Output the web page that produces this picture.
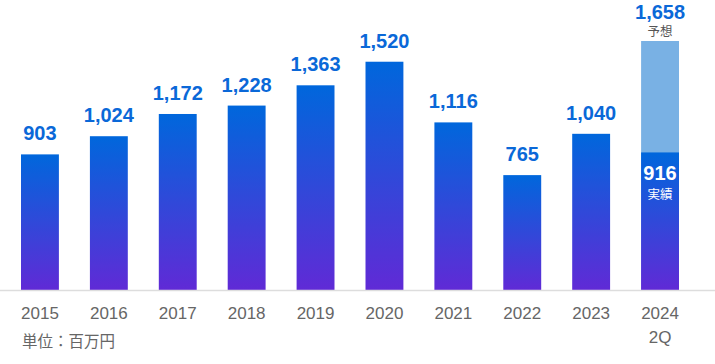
<!DOCTYPE html>
<html>
<head>
<meta charset="utf-8">
<script src="https://cdn.jsdelivr.net/npm/d3@7"></script>
<style>
  body { margin: 0; background: #fff; }
  text { font-family: "Liberation Sans", Arial, "Noto Sans CJK JP", sans-serif; }
</style>
</head>
<body>
<div id="chart"></div>
<script>
// data
const years = ["2015", "2016", "2017", "2018", "2019", "2020", "2021", "2022", "2023", "2024"];
const values = [903, 1024, 1172, 1228, 1363, 1520, 1116, 765, 1040, 916];
const forecastValue = 1658; // 2024 forecast
const yearSubLabels = ["", "", "", "", "", "", "", "", "", "2Q"];
const unitLabel = "単位：百万円";
const forecastLabel = "予想";
const actualLabel = "実績";

const width = 715, height = 364;
const baseY = 290;

const svg = d3
  .select("#chart")
  .append("svg")
  .attr("width", width)
  .attr("height", height);

// gradient for the bars
const defs = svg.append("defs");
const grad = defs
  .append("linearGradient")
  .attr("id", "barGrad")
  .attr("x1", 0).attr("y1", 0)
  .attr("x2", 0).attr("y2", 1);
grad.append("stop").attr("offset", "0%").attr("stop-color", "#0067dc");
grad.append("stop").attr("offset", "100%").attr("stop-color", "#602ad6");

const x = d3
  .scaleBand()
  .domain(years)
  .range([-10, 710])
  .paddingInner(0.45)
  .paddingOuter(0.45);

const y = d3
  .scaleLinear()
  .domain([0, forecastValue])
  .range([baseY, 41]);

const data = years.map((yr, i) => ({ year: yr, value: values[i], sub: yearSubLabels[i] }));
const last = years[years.length - 1];

// forecast bar (light) for 2024
svg
  .append("rect")
  .attr("x", x(last))
  .attr("y", y(forecastValue))
  .attr("width", x.bandwidth())
  .attr("height", y(0) - y(forecastValue))
  .attr("fill", "#79b1e4");

// bars
svg
  .selectAll(".bar")
  .data(data)
  .enter()
  .append("rect")
  .attr("class", "bar")
  .attr("x", (d) => x(d.year))
  .attr("y", (d) => y(d.value))
  .attr("width", x.bandwidth())
  .attr("height", (d) => y(0) - y(d.value))
  .attr("fill", "url(#barGrad)");

// baseline
svg
  .append("line")
  .attr("x1", 0)
  .attr("x2", width)
  .attr("y1", baseY + 0.5)
  .attr("y2", baseY + 0.5)
  .attr("stroke", "#dddddd")
  .attr("stroke-width", 1.5);

// value labels above bars
svg
  .selectAll(".val")
  .data(data.filter((d) => d.year !== last))
  .enter()
  .append("text")
  .attr("class", "val")
  .attr("x", (d) => x(d.year) + x.bandwidth() / 2)
  .attr("y", (d) => y(d.value) - 14)
  .attr("text-anchor", "middle")
  .attr("font-size", "20px")
  .attr("font-weight", "bold")
  .attr("fill", "#0a68d8")
  .text((d) => d3.format(",")(d.value));

// 2024 labels
const cx = x(last) + x.bandwidth() / 2;
svg
  .append("text")
  .attr("x", cx)
  .attr("y", y(forecastValue) - 22)
  .attr("text-anchor", "middle")
  .attr("font-size", "20px")
  .attr("font-weight", "bold")
  .attr("fill", "#0a68d8")
  .text(d3.format(",")(forecastValue));
svg
  .append("text")
  .attr("x", cx)
  .attr("y", y(forecastValue) - 5)
  .attr("text-anchor", "middle")
  .attr("font-size", "12.5px")
  .attr("fill", "#555")
  .text(forecastLabel);
svg
  .append("text")
  .attr("x", cx)
  .attr("y", y(values[values.length - 1]) + 28)
  .attr("text-anchor", "middle")
  .attr("font-size", "20px")
  .attr("font-weight", "bold")
  .attr("fill", "#fff")
  .text(d3.format(",")(values[values.length - 1]));
svg
  .append("text")
  .attr("x", cx)
  .attr("y", y(values[values.length - 1]) + 47)
  .attr("text-anchor", "middle")
  .attr("font-size", "12.5px")
  .attr("fill", "#fff")
  .text(actualLabel);

// x axis labels
svg
  .selectAll(".yr")
  .data(data)
  .enter()
  .append("text")
  .attr("class", "yr")
  .attr("x", (d) => x(d.year) + x.bandwidth() / 2)
  .attr("y", 319)
  .attr("text-anchor", "middle")
  .attr("font-size", "17px")
  .attr("fill", "#666")
  .text((d) => d.year);

svg
  .selectAll(".sub")
  .data(data.filter((d) => d.sub))
  .enter()
  .append("text")
  .attr("class", "sub")
  .attr("x", (d) => x(d.year) + x.bandwidth() / 2)
  .attr("y", 343)
  .attr("text-anchor", "middle")
  .attr("font-size", "17px")
  .attr("fill", "#666")
  .text((d) => d.sub);

// unit note
svg
  .append("text")
  .attr("x", 22)
  .attr("y", 347)
  .attr("font-size", "15.5px")
  .attr("fill", "#666")
  .text(unitLabel);
</script>
</body>
</html>
